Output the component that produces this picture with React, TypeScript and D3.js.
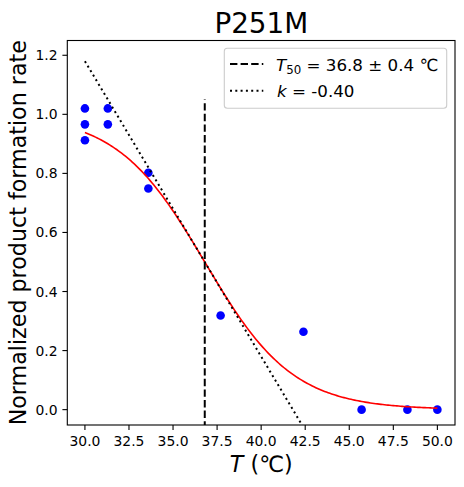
import { scaleLinear, line, range } from "d3";

// measured points (T in °C, normalized rate)
const tempData = [30.0, 30.0, 30.0, 31.3, 31.3, 33.6, 33.6, 37.7, 42.4, 45.7, 48.3, 50.0];
const rateData = [1.02, 0.966, 0.912, 1.02, 0.966, 0.802, 0.749, 0.319, 0.264, 0.0, 0.0, 0.0];

// fit parameters
const T50 = 36.8;
const T50_ERR = 0.4;
const K = -0.4;

const xTicks = [30, 32.5, 35, 37.5, 40, 42.5, 45, 47.5, 50];
const yTicks = [0, 0.2, 0.4, 0.6, 0.8, 1.0, 1.2];

const W = 464;
const H = 487;
const M = { left: 67.3, right: 455, top: 40.5, bottom: 425 };
const FONT = "DejaVu Sans, sans-serif";

export default function App() {
  const x = scaleLinear().domain([29, 51]).range([M.left, M.right]);
  const y = scaleLinear().domain([-0.052, 1.25]).range([M.bottom, M.top]);

  const fit = (t: number) => 1 / (1 + Math.exp(-K * (t - T50)));
  const fitT = range(0, 201).map((i) => 30 + (i * 20) / 200);
  const fitPath =
    line<number>()
      .x((t) => x(t))
      .y((t) => y(fit(t)))(fitT) ?? "";

  const tangent = (t: number) => 0.5 + (K / 4) * (t - T50);
  const tangentPath =
    line<number>()
      .x((t) => x(t))
      .y((t) => y(tangent(t)))([30, 50]) ?? "";

  return (
    <div style={{ position: "absolute", left: 0, top: 0 }}>
      <svg width={W} height={H} fontFamily={FONT}>
        <rect width={W} height={H} fill="#fff" />
        <defs>
          <clipPath id="plot">
            <rect x={M.left} y={M.top} width={M.right - M.left} height={M.bottom - M.top} />
          </clipPath>
        </defs>

        <g clipPath="url(#plot)">
          {tempData.map((t, i) => (
            <circle key={i} cx={x(t)} cy={y(rateData[i])} r={4.3} fill="#0000ff" />
          ))}
          <path d={fitPath} fill="none" stroke="#ff0000" strokeWidth={1.6} />
          <line
            x1={x(T50)}
            x2={x(T50)}
            y1={y(-0.1)}
            y2={y(1.05)}
            stroke="#000"
            strokeWidth={2}
            strokeDasharray="7.4,3.2"
          />
          <path d={tangentPath} fill="none" stroke="#000" strokeWidth={2} strokeDasharray="2,3.3" />
        </g>

        {/* axes frame */}
        <rect
          x={M.left}
          y={M.top}
          width={M.right - M.left}
          height={M.bottom - M.top}
          fill="none"
          stroke="#000"
          strokeWidth={1.1}
        />

        {xTicks.map((t) => (
          <g key={t}>
            <line x1={x(t)} x2={x(t)} y1={M.bottom} y2={M.bottom + 4.9} stroke="#000" strokeWidth={1.1} />
            <text x={x(t)} y={446} fontSize={13.9} textAnchor="middle" fill="#000">
              {t.toFixed(1)}
            </text>
          </g>
        ))}
        {yTicks.map((v) => (
          <g key={v}>
            <line x1={M.left - 4.9} x2={M.left} y1={y(v)} y2={y(v)} stroke="#000" strokeWidth={1.1} />
            <text x={57.5} y={y(v) + 5} fontSize={13.9} textAnchor="end" fill="#000">
              {v.toFixed(1)}
            </text>
          </g>
        ))}

        <text x={261.3} y={32.7} fontSize={27.8} textAnchor="middle" fill="#000">
          P251M
        </text>

        <text x={261.3} y={472} fontSize={22.2} textAnchor="middle" fill="#000">
          <tspan fontStyle="italic">T</tspan> (℃)
        </text>

        <text
          transform={`translate(26,${(M.top + M.bottom) / 2}) rotate(-90)`}
          fontSize={22.2}
          textAnchor="middle"
          fill="#000"
        >
          Normalized product formation rate
        </text>

        {/* legend */}
        <rect x={224.3} y={48.3} width={222.4} height={60} rx={3} fill="#fff" fillOpacity={0.8} stroke="#cccccc" strokeWidth={1.1} />
        <line x1={230} x2={263.3} y1={64} y2={64} stroke="#000" strokeWidth={2} strokeDasharray="7.4,3.2" />
        <line x1={230} x2={263.3} y1={90.7} y2={90.7} stroke="#000" strokeWidth={2} strokeDasharray="2,3.3" />
        <text x={276} y={70.7} fontSize={16.7} fill="#000">
          <tspan fontStyle="italic">T</tspan>
          <tspan fontSize={11.8} dy={3.5}>50</tspan>
          <tspan dy={-3.5}>{` = ${T50.toFixed(1)} ± ${T50_ERR.toFixed(1)} ℃`}</tspan>
        </text>
        <text x={277} y={97.3} fontSize={16.7} fill="#000">
          <tspan fontStyle="italic">k</tspan>
          <tspan>{` = ${K.toFixed(2)}`}</tspan>
        </text>
      </svg>
    </div>
  );
}
